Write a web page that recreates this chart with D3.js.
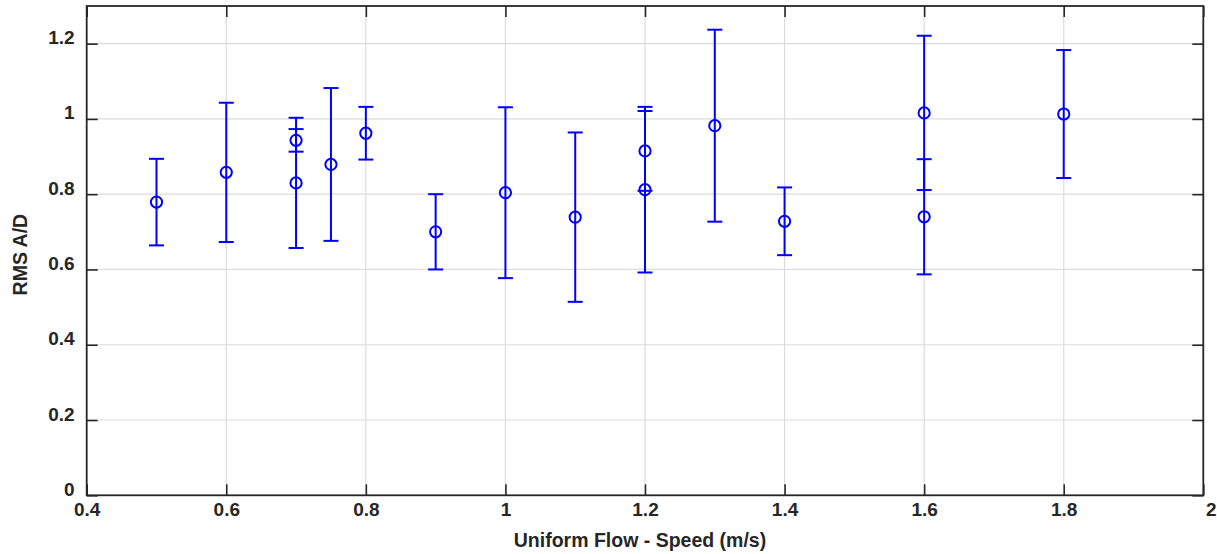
<!DOCTYPE html>
<html>
<head>
<meta charset="utf-8">
<script src="https://cdn.jsdelivr.net/npm/d3@7"></script>
<style>
  body { margin: 0; background: #fff; }
  svg text { font-family: "Liberation Sans", Arial, sans-serif; font-weight: bold; fill: #262626; }
</style>
</head>
<body>
<svg id="chart" width="1217" height="554"></svg>
<script>
// uniform flow speed (m/s), mean RMS A/D and its error half-width
const speed = [0.5, 0.6, 0.7, 0.7, 0.75, 0.8, 0.9, 1.0, 1.1, 1.2, 1.2, 1.3, 1.4, 1.6, 1.6, 1.8];
const rmsAD = [0.779, 0.858, 0.943, 0.830, 0.879, 0.962, 0.700, 0.804, 0.739, 0.915, 0.812, 0.982, 0.728, 1.016, 0.740, 1.013];
const errAD = [0.115, 0.185, 0.030, 0.173, 0.203, 0.070, 0.100, 0.227, 0.225, 0.106, 0.220, 0.255, 0.090, 0.205, 0.153, 0.170];
const xTicks = [0.4, 0.6, 0.8, 1, 1.2, 1.4, 1.6, 1.8, 2];
const yTicks = [0, 0.2, 0.4, 0.6, 0.8, 1, 1.2];

const svg = d3.select("#chart"),
    margin = { top: 6, right: 13.7, bottom: 58.7, left: 86.7 },
    width = +svg.attr("width") - margin.left - margin.right,
    height = +svg.attr("height") - margin.top - margin.bottom;

const g = svg.append("g")
    .attr("transform", `translate(${margin.left},${margin.top})`);

const x = d3.scaleLinear().domain([0.4, 2]).range([0, width]);
const y = d3.scaleLinear().domain([0, 1.3]).range([height, 0]);

const axisColor = "#262626";
const tickLen = 11;
const fmt = d => String(+d.toFixed(1));

// grid
g.append("g").selectAll("line")
    .data(xTicks.slice(1, -1))
    .enter().append("line")
    .attr("x1", d => x(d)).attr("x2", d => x(d))
    .attr("y1", 0).attr("y2", height)
    .attr("stroke", "#dcdcdc").attr("stroke-width", 1.2);
g.append("g").selectAll("line")
    .data(yTicks.slice(1))
    .enter().append("line")
    .attr("x1", 0).attr("x2", width)
    .attr("y1", d => y(d)).attr("y2", d => y(d))
    .attr("stroke", "#dcdcdc").attr("stroke-width", 1.2);

// axes with inward ticks
const xAxis = g.append("g")
    .attr("transform", `translate(0,${height})`)
    .call(d3.axisBottom(x).tickValues(xTicks).tickFormat(fmt).tickSizeInner(-tickLen).tickSizeOuter(0).tickPadding(7));
const yAxis = g.append("g")
    .call(d3.axisLeft(y).tickValues(yTicks).tickFormat(fmt).tickSizeInner(-tickLen).tickSizeOuter(0).tickPadding(12));
g.append("g")
    .call(d3.axisTop(x).tickValues(xTicks).tickFormat("").tickSizeInner(-tickLen).tickSizeOuter(0));
g.append("g")
    .attr("transform", `translate(${width},0)`)
    .call(d3.axisRight(y).tickValues(yTicks).tickFormat("").tickSizeInner(-tickLen).tickSizeOuter(0));

g.selectAll(".domain").remove();
g.selectAll(".tick line").attr("stroke", axisColor).attr("stroke-width", 1.6);
xAxis.selectAll("text").style("font-size", "19px")
    .attr("dx", d => d === 2 ? "0.4em" : 0);
yAxis.selectAll("text").style("font-size", "19px").attr("dy", "0");

// box
g.append("rect")
    .attr("width", width).attr("height", height)
    .attr("fill", "none").attr("stroke", axisColor).attr("stroke-width", 1.8);

// error bars
const pts = speed.map((s, i) => ({ s, v: rmsAD[i], e: errAD[i] }));
const blue = "#0000ff";
const cap = 7.5;

const bars = g.append("g").selectAll("g")
    .data(pts)
    .enter().append("g")
    .attr("stroke", blue)
    .attr("stroke-width", 2)
    .attr("fill", "none");

bars.append("line")
    .attr("x1", d => x(d.s)).attr("x2", d => x(d.s))
    .attr("y1", d => y(d.v + d.e)).attr("y2", d => y(d.v - d.e));
bars.append("line")
    .attr("x1", d => x(d.s) - cap).attr("x2", d => x(d.s) + cap)
    .attr("y1", d => y(d.v + d.e)).attr("y2", d => y(d.v + d.e));
bars.append("line")
    .attr("x1", d => x(d.s) - cap).attr("x2", d => x(d.s) + cap)
    .attr("y1", d => y(d.v - d.e)).attr("y2", d => y(d.v - d.e));
bars.append("circle")
    .attr("cx", d => x(d.s)).attr("cy", d => y(d.v))
    .attr("r", 5.6);

// axis labels
svg.append("text")
    .attr("x", margin.left + width / 2 - 5)
    .attr("y", 547)
    .attr("text-anchor", "middle")
    .style("font-size", "19.5px")
    .text("Uniform Flow - Speed (m/s)");

svg.append("text")
    .attr("transform", `translate(26.5,${margin.top + height / 2 + 4}) rotate(-90)`)
    .attr("text-anchor", "middle")
    .style("font-size", "19.5px")
    .text("RMS A/D");
</script>
</body>
</html>
